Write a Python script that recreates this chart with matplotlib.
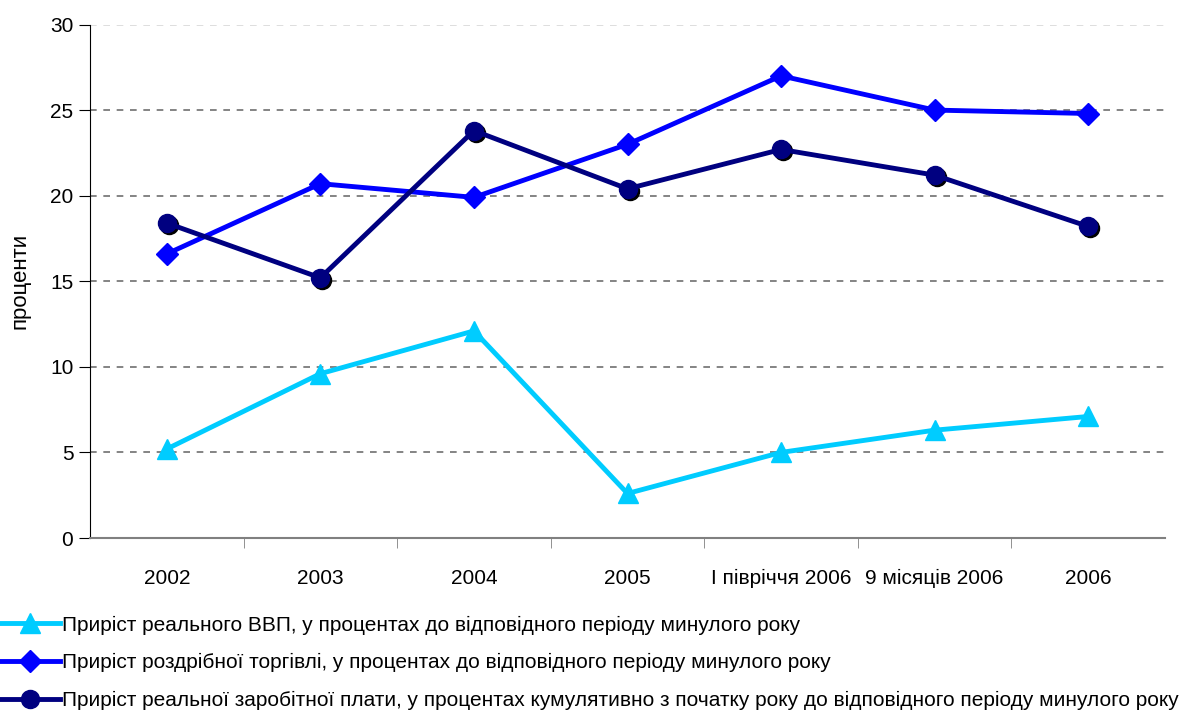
import matplotlib
matplotlib.use('Agg')
import matplotlib.pyplot as plt
from matplotlib import transforms

plt.rcParams['font.family'] = ['Liberation Sans', 'DejaVu Sans']

# дані
periods = ['2002', '2003', '2004', '2005', 'І півріччя 2006', '9 місяців 2006', '2006']
gdp = [5.2, 9.6, 12.1, 2.6, 5.0, 6.3, 7.1]
retail = [16.6, 20.7, 19.9, 23.0, 27.0, 25.0, 24.8]
wages = [18.4, 15.2, 23.8, 20.4, 22.7, 21.2, 18.2]
labels = ['Приріст реального ВВП, у процентах до відповідного періоду минулого року',
          'Приріст роздрібної торгівлі, у процентах до відповідного періоду минулого року',
          'Приріст реальної заробітної плати, у процентах кумулятивно з початку року до відповідного періоду минулого року']

fig = plt.figure(figsize=(11.91, 7.13), dpi=100)
ax = fig.add_axes([90/1191, 1 - 538/713, 1075/1191, 513.5/713])

x = list(range(len(periods)))

l1, = ax.plot(x, gdp, color='#00CCFF', lw=3.5, marker='^', ms=14, zorder=3)
l2, = ax.plot(x, retail, color='#0000FF', lw=3.5, marker='D', ms=11, zorder=4)
# тінь під кружечками
shadow = transforms.offset_copy(ax.transData, fig=fig, x=2, y=-2, units='dots')
ax.plot(x, wages, ls='none', marker='o', ms=13, color='black', transform=shadow, zorder=5)
l3, = ax.plot(x, wages, color='#000080', lw=3.5, marker='o', ms=13, zorder=6)

ax.set_xlim(-0.5, 6.5)
ax.set_ylim(0, 30)
ax.set_yticks(range(0, 31, 5))
ax.set_xticks(x)
ax.set_xticklabels(periods)
ax.set_xticks([i + 0.5 for i in range(6)], minor=True)
ax.tick_params(axis='x', which='major', length=0, pad=22, labelsize=15)
ax.tick_params(axis='x', which='minor', length=7, color='#808080', direction='out')
ax.tick_params(axis='y', length=8, direction='out', labelsize=15, pad=4)
ax.set_ylabel('проценти', fontsize=16, labelpad=14)

ax.yaxis.grid(True, ls=(0, (4, 4)), color='#707070', lw=1.2)
ax.get_ygridlines()[-1].set_color('#d8d8d8')
ax.set_axisbelow(True)
for s in ['top', 'right']:
    ax.spines[s].set_visible(False)
ax.spines['bottom'].set_color('#808080')
ax.spines['bottom'].set_linewidth(1.5)
ax.spines['left'].set_color('black')

fig.legend([l1, l2, l3], labels, loc='lower left', bbox_to_anchor=(0, 0.004),
           frameon=False, fontsize=15, handlelength=2.9, handletextpad=0.1,
           labelspacing=0.9, borderaxespad=0, borderpad=0)

plt.savefig('out.png', dpi=100)
